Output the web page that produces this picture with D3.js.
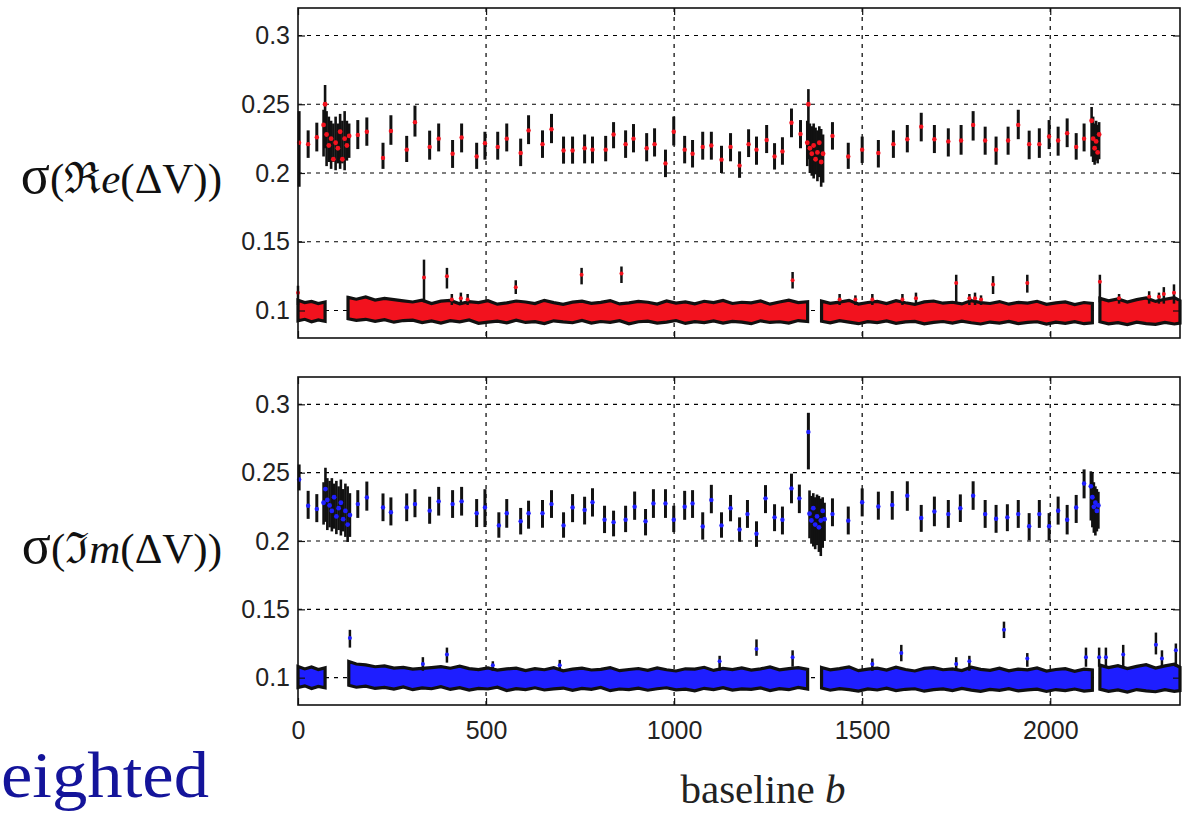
<!DOCTYPE html>
<html>
<head>
<meta charset="utf-8">
<script src="https://cdn.jsdelivr.net/npm/d3@7/dist/d3.min.js"></script>
<style>
body { margin: 0; background: #fff; overflow: hidden; }
svg { display: block; }
</style>
</head>
<body>
<div id="main"></div>
<script>
// axes
var xTicks = [0, 500, 1000, 1500, 2000];
var yTicks = [0.1, 0.15, 0.2, 0.25, 0.3];
var yTickLabels = ["0.1", "0.15", "0.2", "0.25", "0.3"];

// isolated high-noise baselines: [baseline, low, high, mean]
var reBars = [
  [3,.19,.245,.222],[27,.211,.231,.221],[50,.2157,.2366,.226],[159,.2174,.2385,.2277],
  [183,.2198,.2404,.230],[226,.203,.222,.211],[247,.2205,.242,.2306],[289,.208,.227,.217],
  [311,.2265,.249,.237],[350,.2097,.2308,.219],[374,.2157,.236,.225],[411,.2037,.224,.214],
  [435,.215,.236,.2258],[475,.203,.222,.212],[497,.2097,.230,.2217],[531,.2097,.230,.219],
  [555,.2157,.236,.225],[592,.205,.225,.2145],[613,.221,.242,.231],[650,.211,.231,.221],
  [674,.2217,.243,.2318],[706,.2068,.2265,.2164],[730,.2068,.2265,.2164],[762,.207,.228,.218],
  [783,.207,.2265,.217],[818,.2085,.227,.217],[839,.218,.237,.228],[871,.211,.231,.221],
  [892,.215,.2356,.225],[927,.2085,.229,.218],[948,.212,.2325,.221],[977,.197,.217,.207],
  [999,.220,.241,.230],[1028,.207,.227,.217],[1049,.204,.224,.214],[1076,.2097,.230,.219],
  [1099,.2097,.230,.220],[1126,.200,.2198,.2097],[1150,.2085,.229,.219],[1174,.1965,.2157,.2054],
  [1198,.2116,.2318,.221],[1219,.206,.2265,.217],[1246,.2145,.2349,.224],[1267,.2025,.2217,.212],
  [1288,.206,.226,.2157],[1312,.226,.2469,.2366],[1336,.218,.2385,.2284],[1421,.217,.237,.227],
  [1463,.203,.222,.212],[1500,.2073,.2265,.217],[1543,.204,.224,.2145],[1583,.211,.231,.221],
  [1620,.215,.2349,.2246],[1657,.223,.2438,.2337],[1692,.2145,.2349,.2246],[1729,.212,.2325,.223],
  [1763,.2133,.2349,.2236],[1795,.2236,.245,.235],[1827,.2133,.2337,.2236],[1856,.206,.2265,.217],
  [1888,.2133,.2337,.2236],[1915,.2246,.246,.235],[1944,.210,.2308,.221],[1971,.211,.2325,.221],
  [1997,.2174,.2385,.2265],[2021,.2126,.2337,.2236],[2045,.2188,.2397,.229],[2069,.2097,.229,.219],
  [2090,.2157,.236,.225]
];
var imBars = [
  [3,.237,.256,.245],[27,.2162,.2367,.2258],[50,.2138,.2343,.2234],[159,.2169,.2372,.227],
  [183,.2222,.2435,.2319],[226,.2145,.2348,.2246],[247,.2114,.2319,.221],[289,.2145,.2348,.2246],
  [311,.2174,.2379,.227],[350,.2126,.2324,.2222],[374,.2186,.2396,.229],[411,.2169,.2372,.227],
  [435,.2186,.2396,.229],[475,.2102,.2307,.2203],[497,.2102,.2379,.2246],[534,.2024,.221,.2114],
  [555,.2097,.2307,.2203],[592,.2048,.2242,.2145],[613,.209,.2295,.2203],[650,.2097,.23,.2203],
  [674,.2169,.2372,.227],[706,.2024,.221,.2114],[730,.2138,.2343,.2246],[762,.2121,.2324,.2227],
  [783,.2179,.2386,.2283],[815,.2058,.2258,.2155],[839,.2034,.2222,.2138],[871,.2065,.2258,.2155],
  [895,.2155,.2362,.2251],[924,.2041,.2234,.2145],[945,.2169,.2379,.2275],[977,.2169,.2379,.2275],
  [999,.2065,.2258,.2155],[1028,.2155,.2367,.2251],[1049,.2169,.2372,.2275],[1076,.201,.221,.2106],
  [1099,.2203,.2411,.23],[1126,.2024,.221,.2114],[1150,.2144,.2337,.224],[1174,.1995,.2173,.2084],
  [1195,.2096,.23,.2197],[1219,.1957,.2144,.2053],[1243,.2204,.2409,.2312],[1267,.2072,.2269,.2173],
  [1288,.2048,.2252,.2156],[1312,.2276,.2493,.2385],[1333,.2204,.2413,.2312],[1357,.2524,.2938,.2798],
  [1421,.2108,.2312,.2197],[1463,.2048,.2252,.2149],[1500,.218,.2385,.2284],[1543,.2156,.2361,.2252],
  [1580,.2156,.2365,.2264],[1620,.2221,.2437,.2332],[1657,.2067,.2264,.2168],[1692,.2108,.2325,.2216],
  [1729,.2096,.23,.2197],[1761,.2139,.2341,.224],[1795,.2228,.2437,.2332],[1827,.2096,.23,.2197],
  [1856,.206,.2264,.2163],[1886,.2072,.2269,.2173],[1915,.2096,.23,.2197],[1944,.2005,.2204,.2108],
  [1971,.2096,.23,.2197],[1997,.2005,.2204,.2108],[2021,.212,.2325,.2221],[2045,.2048,.2264,.2156],
  [2069,.2132,.2337,.2245],[2090,.2312,.2524,.2421]
];

// dense blocks of high-noise baselines: [baseline, low, high, mean]
var reCluster = [
  [68,.212,.246,.235],[72,.218,.264,.25],[76,.205,.245,.228],[82,.208,.241,.22],[88,.203,.238,.225],
  [94,.208,.236,.21],[100,.202,.241,.222],[106,.207,.236,.218],[112,.203,.243,.23],[118,.207,.238,.21],
  [124,.202,.245,.225],[130,.209,.238,.22],[136,.211,.236,.227],
  [1354,.205,.238,.222],[1357,.21,.261,.25],[1361,.2,.236,.218],[1366,.198,.234,.214],[1371,.196,.236,.22],
  [1376,.199,.233,.21],[1381,.194,.231,.215],[1386,.197,.234,.222],[1391,.19,.232,.208],[1396,.193,.228,.214],
  [2110,.212,.248,.238],[2114,.208,.241,.225],[2118,.206,.236,.218],[2122,.209,.238,.223],
  [2126,.207,.235,.215],[2130,.21,.237,.228]
];
var imCluster = [
  [68,.212,.243,.228],[73,.214,.2536,.238],[78,.208,.246,.23],[84,.21,.244,.226],[90,.207,.246,.222],
  [96,.209,.242,.232],[102,.205,.244,.218],[108,.208,.24,.224],[114,.204,.245,.228],[120,.207,.238,.216],
  [126,.203,.242,.222],[132,.1993,.24,.212],[138,.203,.235,.219],
  [1360,.202,.237,.22],[1365,.198,.233,.215],[1370,.196,.235,.224],[1375,.194,.232,.212],[1380,.197,.234,.218],
  [1385,.192,.233,.21],[1390,.189,.231,.215],[1395,.195,.232,.222],[1400,.2,.228,.216],
  [2108,.215,.251,.24],[2112,.21,.25,.232],[2116,.206,.243,.225],[2120,.204,.24,.228],
  [2124,.207,.238,.222],[2128,.209,.236,.226]
];

// low-noise band envelope: [baseline, low, high], null = gap
var reLow = [
  [0,.0925,.1075],[18,.0936,.1058],[36,.0918,.1066],[54,.0932,.1050],[72,.0922,.1062],null,
  [133,.0940,.1095],[155,.0928,.1082],[180,.0936,.1098],[205,.0921,.1076],[230,.0933,.1088],[255,.0915,.1079],
  [280,.0927,.1070],[305,.0930,.1062],[330,.0912,.1075],[355,.0924,.1051],[380,.0909,.1068],[405,.0926,.1073],
  [430,.0918,.1049],[455,.0931,.1064],[480,.0907,.1058],[505,.0916,.1071],[530,.0922,.1046],[555,.0910,.1055],
  [580,.0929,.1069],[605,.0913,.1062],[630,.0919,.1050],[655,.0905,.1074],[680,.0925,.1057],[705,.0917,.1045],
  [730,.0911,.1061],[755,.0928,.1068],[780,.0908,.1052],[805,.0920,.1059],[830,.0914,.1072],[855,.0926,.1048],
  [880,.0903,.1056],[905,.0918,.1066],[930,.0923,.1060],[955,.0909,.1047],[980,.0915,.1070],[1005,.0927,.1054],
  [1030,.0906,.1063],[1055,.0919,.1049],[1080,.0912,.1067],[1105,.0924,.1058],[1130,.0908,.1073],[1155,.0921,.1051],
  [1180,.0916,.1060],[1205,.0904,.1055],[1230,.0925,.1069],[1255,.0913,.1046],[1280,.0918,.1062],[1305,.0909,.1075],
  [1330,.0927,.1057],[1355,.0920,.1064],null,
  [1392,.0922,.1068],[1415,.0910,.1052],[1440,.0926,.1061],[1465,.0915,.1074],[1490,.0904,.1047],[1515,.0919,.1058],
  [1540,.0912,.1066],[1565,.0924,.1050],[1590,.0907,.1071],[1615,.0917,.1056],[1640,.0921,.1044],[1665,.0903,.1063],
  [1690,.0914,.1069],[1715,.0920,.1053],[1740,.0908,.1060],[1765,.0923,.1048],[1790,.0911,.1072],[1815,.0902,.1057],
  [1840,.0916,.1051],[1865,.0909,.1065],[1890,.0921,.1046],[1915,.0905,.1059],[1940,.0913,.1054],[1965,.0918,.1067],
  [1990,.0901,.1045],[2015,.0915,.1056],[2040,.0907,.1062],[2065,.0919,.1043],[2090,.0904,.1058],[2112,.0910,.1052],null,
  [2132,.0918,.1088],[2155,.0903,.1070],[2180,.0912,.1084],[2205,.0897,.1062],[2230,.0915,.1079],[2255,.0905,.1091],
  [2280,.0899,.1066],[2305,.0914,.1082],[2330,.0902,.1094],[2345,.0908,.1072]
];
var imLow = [
  [0,.0928,.1082],[18,.0940,.1064],[36,.0921,.1078],[54,.0936,.1060],[72,.0926,.1072],null,
  [135,.0945,.1118],[155,.0930,.1100],[180,.0938,.1094],[205,.0921,.1080],[230,.0929,.1086],[255,.0916,.1070],
  [280,.0932,.1075],[305,.0912,.1062],[330,.0925,.1068],[355,.0919,.1074],[380,.0934,.1081],[405,.0914,.1069],
  [430,.0927,.1084],[455,.0909,.1066],[480,.0922,.1059],[505,.0917,.1072],[530,.0930,.1055],[555,.0906,.1064],
  [580,.0920,.1070],[605,.0913,.1052],[630,.0926,.1066],[655,.0910,.1058],[680,.0918,.1073],[705,.0924,.1050],
  [730,.0907,.1062],[755,.0921,.1069],[780,.0915,.1056],[805,.0928,.1061],[830,.0905,.1074],[855,.0917,.1051],
  [880,.0912,.1060],[905,.0923,.1067],[930,.0908,.1054],[955,.0919,.1071],[980,.0926,.1058],[1005,.0911,.1049],
  [1030,.0916,.1065],[1055,.0904,.1063],[1080,.0922,.1076],[1105,.0913,.1053],[1130,.0927,.1068],[1155,.0909,.1059],
  [1180,.0918,.1072],[1205,.0914,.1055],[1230,.0925,.1064],[1255,.0906,.1078],[1280,.0920,.1057],[1305,.0912,.1066],
  [1330,.0929,.1073],[1355,.0917,.1061],null,
  [1392,.0924,.1075],[1415,.0908,.1057],[1440,.0920,.1066],[1465,.0913,.1079],[1490,.0902,.1051],[1515,.0918,.1063],
  [1540,.0910,.1070],[1565,.0923,.1055],[1590,.0905,.1076],[1615,.0915,.1060],[1640,.0919,.1049],[1665,.0901,.1068],
  [1690,.0912,.1073],[1715,.0918,.1058],[1740,.0906,.1064],[1765,.0921,.1052],[1790,.0909,.1077],[1815,.0900,.1061],
  [1840,.0914,.1054],[1865,.0907,.1069],[1890,.0919,.1050],[1915,.0903,.1063],[1940,.0911,.1057],[1965,.0916,.1071],
  [1990,.0899,.1048],[2015,.0913,.1060],[2040,.0905,.1066],[2065,.0917,.1047],[2090,.0902,.1062],[2112,.0908,.1056],null,
  [2132,.0916,.1092],[2155,.0900,.1074],[2180,.0910,.1088],[2205,.0895,.1066],[2230,.0913,.1083],[2255,.0903,.1095],
  [2280,.0897,.1070],[2305,.0912,.1086],[2330,.0900,.1098],[2345,.0906,.1076]
];

// outliers sticking out of the low band: [baseline, low, high, mean]
var reSpikes = [
  [0,.104,.118,.113],[335,.106,.137,.124],[396,.116,.131,.125],[409,.104,.112,.108],[433,.104,.113,.109],
  [451,.104,.112,.108],[579,.112,.122,.117],[754,.119,.131,.126],[860,.12,.132,.127],[1315,.116,.128,.122],
  [1440,.104,.112,.108],[1482,.104,.111,.108],[1527,.104,.112,.108],[1607,.104,.112,.108],[1643,.104,.113,.109],
  [1750,.106,.126,.12],[1785,.104,.112,.109],[1800,.104,.113,.109],[1816,.104,.111,.108],
  [1848,.112,.125,.119],[1939,.113,.126,.12],[2132,.106,.126,.121],[2183,.105,.112,.109],[2263,.105,.114,.11],
  [2289,.105,.113,.11],[2302,.105,.117,.112],[2329,.105,.119,.113]
];
var imSpikes = [
  [138,.122,.135,.129],[332,.105,.115,.11],[396,.111,.122,.117],[518,.105,.112,.109],[696,.105,.113,.109],
  [1121,.105,.116,.112],[1219,.116,.128,.121],[1315,.108,.12,.115],[1527,.105,.114,.11],[1604,.112,.124,.118],
  [1750,.105,.115,.11],[1785,.105,.116,.112],[1877,.129,.141,.135],[1939,.108,.118,.114],[2095,.108,.122,.115],
  [2130,.108,.122,.115],[2148,.108,.122,.115],[2194,.108,.124,.117],[2281,.117,.133,.124],[2297,.108,.12,.114],
  [2334,.108,.125,.12]
];

//////////////////////////////////////////////////////////////////////////////

var svg = d3.select("#main")
        .append("svg")
        .attr("width", 1191)
        .attr("height", 814);

var x = d3.scaleLinear().domain([0, 2345]).range([298, 1180]);

var panels = [
    { top: 8, bottom: 338, bars: reBars, cluster: reCluster, low: reLow, spikes: reSpikes,
      colour: "#f2121e", xLabels: false },
    { top: 377, bottom: 705, bars: imBars, cluster: imCluster, low: imLow, spikes: imSpikes,
      colour: "#1e1eff", xLabels: true }
];

function drawBars(g, data, y, colour, width, r) {
    g.append("g").selectAll("line")
        .data(data).enter().append("line")
        .attr("x1", function(d) { return x(d[0]); })
        .attr("x2", function(d) { return x(d[0]); })
        .attr("y1", function(d) { return y(d[1]); })
        .attr("y2", function(d) { return y(d[2]); })
        .attr("stroke", "#111")
        .attr("stroke-width", width);
    g.append("g").selectAll("circle")
        .data(data).enter().append("circle")
        .attr("cx", function(d) { return x(d[0]); })
        .attr("cy", function(d) { return y(d[3]); })
        .attr("r", r)
        .attr("fill", colour);
}

panels.forEach(function(p) {
    var y = d3.scaleLinear().domain([0.08, 0.32]).range([p.bottom, p.top]);
    var g = svg.append("g");
    var x0 = x.range()[0], x1 = x.range()[1];

    // dashed grid
    g.append("g").selectAll("line")
        .data(yTicks).enter().append("line")
        .attr("x1", x0).attr("x2", x1)
        .attr("y1", function(d) { return y(d); })
        .attr("y2", function(d) { return y(d); })
        .attr("stroke", "#000").attr("stroke-width", 1.2)
        .attr("stroke-dasharray", "4,5");
    g.append("g").selectAll("line")
        .data(xTicks.slice(1)).enter().append("line")
        .attr("x1", function(d) { return x(d); })
        .attr("x2", function(d) { return x(d); })
        .attr("y1", p.top).attr("y2", p.bottom)
        .attr("stroke", "#000").attr("stroke-width", 1.2)
        .attr("stroke-dasharray", "4,5");

    // low band
    var area = d3.area()
            .defined(function(d) { return d !== null; })
            .x(function(d) { return x(d[0]); })
            .y0(function(d) { return y(d[1]); })
            .y1(function(d) { return y(d[2]); });
    g.append("path")
        .datum(p.low)
        .attr("d", area)
        .attr("fill", p.colour)
        .attr("stroke", "#111")
        .attr("stroke-width", 3.2)
        .attr("stroke-linejoin", "miter");

    drawBars(g, p.spikes, y, p.colour, 2.5, 2);
    drawBars(g, p.cluster, y, p.colour, 2.6, 2.4);
    drawBars(g, p.bars, y, p.colour, 3, 2.2);

    // box and ticks
    g.append("rect")
        .attr("x", x0).attr("y", p.top)
        .attr("width", x1 - x0).attr("height", p.bottom - p.top)
        .attr("fill", "none").attr("stroke", "#111").attr("stroke-width", 1.6);

    g.append("g")
        .attr("transform", "translate(" + x0 + ",0)")
        .call(d3.axisLeft(y).tickValues(yTicks)
              .tickFormat(function(d, i) { return yTickLabels[i]; })
              .tickSizeInner(-7).tickSizeOuter(0).tickPadding(8));
    g.append("g")
        .attr("transform", "translate(" + x1 + ",0)")
        .call(d3.axisRight(y).tickValues(yTicks).tickFormat("")
              .tickSizeInner(-7).tickSizeOuter(0));
    g.append("g")
        .attr("transform", "translate(0," + p.bottom + ")")
        .call(d3.axisBottom(x).tickValues(xTicks)
              .tickFormat(p.xLabels ? d3.format("d") : "")
              .tickSizeInner(-7).tickSizeOuter(0).tickPadding(16));
    g.append("g")
        .attr("transform", "translate(0," + p.top + ")")
        .call(d3.axisTop(x).tickValues(xTicks).tickFormat("")
              .tickSizeInner(-7).tickSizeOuter(0));

    g.selectAll(".domain").remove();
    g.selectAll(".tick line").attr("stroke", "#111").attr("stroke-width", 1.2);
    g.selectAll(".tick text")
        .attr("fill", "#222")
        .style("font-family", "'Liberation Sans', Arial, Helvetica, sans-serif")
        .style("font-size", "25px");
});

// axis titles
var serif = "'Liberation Serif', 'DejaVu Serif', 'Times New Roman', serif";

var reTitle = svg.append("text")
        .attr("x", 222).attr("y", 193)
        .attr("text-anchor", "end")
        .style("font-family", serif).style("font-size", "43px").attr("fill", "#111");
reTitle.append("tspan").style("font-size", "54px").text("σ");
reTitle.append("tspan").text("(ℜ");
reTitle.append("tspan").style("font-style", "italic").text("e");
reTitle.append("tspan").text("(ΔV))");

var imTitle = svg.append("text")
        .attr("x", 222).attr("y", 563)
        .attr("text-anchor", "end")
        .style("font-family", serif).style("font-size", "43px").attr("fill", "#111");
imTitle.append("tspan").style("font-size", "54px").text("σ");
imTitle.append("tspan").text("(ℑ");
imTitle.append("tspan").style("font-style", "italic").text("m");
imTitle.append("tspan").text("(ΔV))");

var xTitle = svg.append("text")
        .attr("x", 763).attr("y", 803)
        .attr("text-anchor", "middle")
        .style("font-family", serif).style("font-size", "41px").attr("fill", "#222");
xTitle.append("tspan").text("baseline ");
xTitle.append("tspan").style("font-style", "italic").text("b");

svg.append("text")
    .attr("x", 1).attr("y", 797)
    .attr("textLength", 208).attr("lengthAdjust", "spacingAndGlyphs")
    .style("font-family", serif).style("font-size", "66px")
    .attr("fill", "#14149a")
    .text("eighted");
</script>
</body>
</html>
